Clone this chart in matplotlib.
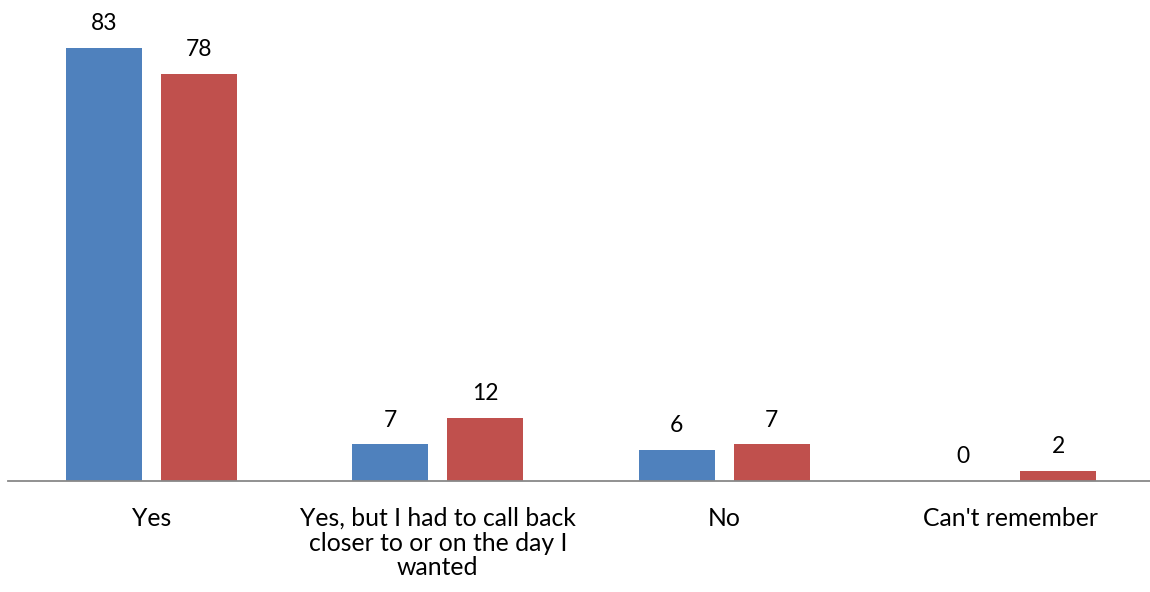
import matplotlib
matplotlib.use("Agg")
import matplotlib.pyplot as plt
import numpy as np

categories = ["Yes", "Yes, but I had to call back\ncloser to or on the day I\nwanted", "No", "Can't remember"]
series_blue = [83, 7, 6, 0]
series_red = [78, 12, 7, 2]

plt.rcParams["font.family"] = ["Lato", "DejaVu Sans"]

fig = plt.figure(figsize=(11.5, 5.92), dpi=100)
ax = fig.add_axes([8 / 1150, 1 - 481 / 592, 1 - 8 / 1150, (481 - 11) / 592])

x = np.arange(len(categories))
w = 0.265
off = 0.166
b1 = ax.bar(x - off, series_blue, w, color="#4F81BD")
b2 = ax.bar(x + off, series_red, w, color="#C0504D")

for bars, vals in ((b1, series_blue), (b2, series_red)):
    for rect, v in zip(bars, vals):
        ax.annotate(str(v), (rect.get_x() + rect.get_width() / 2, rect.get_height()),
                    xytext=(0, 10), textcoords="offset points",
                    ha="center", va="bottom", fontsize=16.5, color="black")

ax.set_xlim(-0.5, -0.5 + 1142 / 286.5)
ax.set_ylim(0, 90)
ax.set_xticks(x)
ax.set_xticklabels(categories, fontsize=17.8, linespacing=1.1)
ax.tick_params(axis="x", length=0, pad=18.5)
ax.set_yticks([])
for s in ("top", "right", "left"):
    ax.spines[s].set_visible(False)
ax.spines["bottom"].set_color("#888888")
ax.spines["bottom"].set_linewidth(1.3)

fig.savefig("out.png", dpi=100)
